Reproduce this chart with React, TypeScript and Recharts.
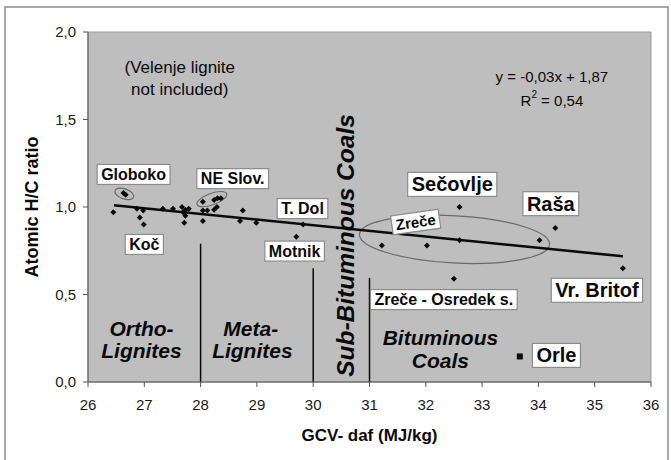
import {
  ComposedChart,
  Scatter,
  XAxis,
  YAxis,
  ReferenceLine,
  ReferenceDot,
  ReferenceArea,
} from "recharts";

// GCV-daf (MJ/kg) and atomic H/C ratio of the coal samples
const gcv = [
  26.45, 26.63, 26.67, 26.87, 26.98, 26.92, 26.99, 27.33, 27.51, 27.67, 27.73,
  27.79, 27.69, 27.73, 27.71, 28.04, 28.04, 28.04, 28.12, 28.24, 28.3, 28.36,
  28.24, 28.29, 28.7, 28.75, 28.99, 29.7, 29.82, 31.22, 32.02, 32.5, 32.6, 32.6,
  34.02, 34.3, 35.5,
];
const hc = [
  0.97, 1.08, 1.07, 0.99, 0.98, 0.94, 0.9, 0.99, 0.99, 1.0, 0.985, 0.99, 0.97,
  0.95, 0.91, 1.03, 0.98, 0.92, 0.98, 1.04, 1.05, 1.05, 0.985, 1.0, 0.92, 0.98,
  0.91, 0.83, 0.9, 0.78, 0.78, 0.59, 1.0, 0.81, 0.81, 0.88, 0.65,
];
const orleGcv = [33.67];
const orleHc = [0.146];

// linear trend, drawn end to end
const trendX = [26.46, 35.5];
const trendY = [1.01, 0.718];

// rank boundaries: x and top of each line
const boundX = [28, 30, 31];
const boundTop = [0.79, 0.65, 0.595];

const xTicks = [26, 27, 28, 29, 30, 31, 32, 33, 34, 35, 36];
const yTicks = [0, 0.5, 1, 1.5, 2];

// site labels
const siteNames = [
  "Globoko", "Koč", "NE Slov.", "T. Dol", "Motnik", "Sečovlje", "Raša",
  "Zreče", "Zreče - Osredek s.", "Vr. Britof", "Orle",
];
const siteX = [26.81, 27.0, 28.57, 29.81, 29.67, 32.47, 34.22, 31.82, 32.32, 35.04, 34.32];
const siteY = [1.186, 0.786, 1.162, 0.991, 0.748, 1.129, 1.019, 0.914, 0.471, 0.524, 0.152];

// coal rank names
const rankText = ["Ortho-", "Lignites", "Meta-", "Lignites", "Bituminous", "Coals"];
const rankX = [26.95, 26.95, 28.89, 28.92, 32.26, 32.26];
const rankY = [0.304, 0.18, 0.304, 0.18, 0.256, 0.123];

// ellipses around sample groups: x1, x2, y1, y2
const groupX1 = [26.47, 27.92, 30.82];
const groupX2 = [26.82, 28.48, 34.2];
const groupY1 = [1.046, 1.012, 0.68];
const groupY2 = [1.104, 1.078, 0.95];

const FONT = '"Liberation Sans", Arial, Helvetica, sans-serif';
const INK = "#0a0a0a";
const siteFont = [16, 16, 16, 16, 16, 20, 20, 15, 16, 20, 20];
const siteAngle = [0, 0, 0, 0, 0, 0, 0, -8, 0, 0, 0];
const groupAngle = [20, -20, 3];

const points = gcv.map((x, i) => ({ x, y: hc[i] }));
const orle = orleGcv.map((x, i) => ({ x, y: orleHc[i] }));

let canvas: HTMLCanvasElement | null = null;
function textWidth(text: string, font: string) {
  if (!canvas) canvas = document.createElement("canvas");
  const ctx = canvas.getContext("2d")!;
  ctx.font = font;
  return ctx.measureText(text).width;
}

const Diamond = (p: any) => {
  const { cx, cy } = p;
  const r = 3;
  return (
    <polygon
      points={`${cx},${cy - r} ${cx + r},${cy} ${cx},${cy + r} ${cx - r},${cy}`}
      fill={INK}
    />
  );
};

const Square = (p: any) => (
  <rect x={p.cx - 3} y={p.cy - 3} width={6} height={6} fill={INK} />
);

const boxLabel = (text: string, size: number, angle: number) => (p: any) => {
  const { cx, cy } = p;
  const w = textWidth(text, `bold ${size}px ${FONT}`) + 8;
  const h = size + 4;
  return (
    <g transform={`rotate(${angle} ${cx} ${cy})`}>
      <rect
        x={cx - w / 2}
        y={cy - h / 2}
        width={w}
        height={h}
        fill="#fff"
        stroke="#8c8c8c"
        strokeWidth={1.2}
      />
      <text
        x={cx}
        y={cy}
        textAnchor="middle"
        dominantBaseline="central"
        fontFamily={FONT}
        fontWeight="bold"
        fontSize={size}
        fill={INK}
      >
        {text}
      </text>
    </g>
  );
};

const plainText =
  (text: any, size: number, opts: { bold?: boolean; italic?: boolean; angle?: number } = {}) =>
  (p: any) => {
    const { cx, cy } = p;
    return (
      <text
        x={cx}
        y={cy}
        textAnchor="middle"
        dominantBaseline="central"
        fontFamily={FONT}
        fontWeight={opts.bold ? "bold" : "normal"}
        fontStyle={opts.italic ? "italic" : "normal"}
        fontSize={size}
        fill={INK}
        transform={opts.angle ? `rotate(${opts.angle} ${cx} ${cy})` : undefined}
      >
        {text}
      </text>
    );
  };

const ellipse = (angle: number) => (p: any) => {
  const { x, y, width, height } = p;
  const cx = x + width / 2;
  const cy = y + height / 2;
  return (
    <ellipse
      cx={cx}
      cy={cy}
      rx={width / 2}
      ry={height / 2}
      fill="none"
      stroke="#6a6a6a"
      strokeWidth={1.2}
      transform={`rotate(${angle} ${cx} ${cy})`}
    />
  );
};

const fmt = (v: number) => v.toFixed(1).replace(".", ",");

export default function App() {
  return (
    <div style={{ position: "absolute", left: 0, top: 0, width: 671, height: 460, background: "#fff" }}>
      <svg
        width={671}
        height={460}
        style={{ position: "absolute", left: 0, top: 0 }}
      >
        <rect x={5} y={7} width={663} height={470} fill="none" stroke="#8a8a8a" strokeWidth={1.5} />
      </svg>
      <div style={{ position: "absolute", left: 0, top: 0 }}>
        <ComposedChart
          width={671}
          height={460}
          margin={{ top: 32, right: 20, bottom: 0, left: 28 }}
        >
          <ReferenceArea
            x1={26}
            x2={36}
            y1={0}
            y2={2}
            fill="#bebebe"
            fillOpacity={1}
            stroke="#9a9a9a"
            strokeWidth={1}
          />
          <XAxis
            type="number"
            dataKey="x"
            domain={[26, 36]}
            ticks={xTicks}
            allowDataOverflow
            height={78}
            stroke="#555"
            tickLine={{ stroke: "#555" }}
            tickSize={5}
            tick={{ fill: "#1a1a1a", fontSize: 15, fontFamily: FONT }}
            tickMargin={12}
            label={{
              content: (p: any) => {
                const vb = p.viewBox;
                return (
                  <text
                    x={vb.x + vb.width / 2}
                    y={435}
                    textAnchor="middle"
                    dominantBaseline="central"
                    fontFamily={FONT}
                    fontWeight="bold"
                    fontSize={17}
                    fill={INK}
                  >
                    GCV- daf (MJ/kg)
                  </text>
                );
              },
            }}
          />
          <YAxis
            type="number"
            dataKey="y"
            domain={[0, 2]}
            ticks={yTicks}
            allowDataOverflow
            width={60}
            stroke="#555"
            tickLine={{ stroke: "#555" }}
            tickSize={5}
            tickFormatter={fmt}
            tick={{ fill: "#1a1a1a", fontSize: 15, fontFamily: FONT }}
            tickMargin={7}
            label={{
              content: (p: any) => {
                const vb = p.viewBox;
                const cx = 32;
                const cy = vb.y + vb.height / 2;
                return (
                  <text
                    x={cx}
                    y={cy}
                    textAnchor="middle"
                    dominantBaseline="central"
                    fontFamily={FONT}
                    fontWeight="bold"
                    fontSize={18}
                    fill={INK}
                    transform={`rotate(-90 ${cx} ${cy})`}
                  >
                    Atomic H/C ratio
                  </text>
                );
              },
            }}
          />

          {groupX1.map((x1, i) => (
            <ReferenceArea
              key={`g${i}`}
              x1={x1}
              x2={groupX2[i]}
              y1={groupY1[i]}
              y2={groupY2[i]}
              shape={ellipse(groupAngle[i])}
            />
          ))}

          {boundX.map((x, i) => (
            <ReferenceLine
              key={`b${i}`}
              segment={[
                { x, y: 0 },
                { x, y: boundTop[i] },
              ]}
              stroke={INK}
              strokeWidth={1.5}
            />
          ))}

          <ReferenceLine
            segment={[
              { x: trendX[0], y: trendY[0] },
              { x: trendX[1], y: trendY[1] },
            ]}
            stroke={INK}
            strokeWidth={2.5}
          />

          <ReferenceDot
            x={30.57}
            y={0.78}
            r={0}
            shape={plainText("Sub-Bituminous Coals", 24.5, { bold: true, italic: true, angle: -90 })}
          />

          <Scatter data={points} shape={Diamond} isAnimationActive={false} />
          <Scatter data={orle} shape={Square} isAnimationActive={false} />

          {rankText.map((t, i) => (
            <ReferenceDot
              key={`r${i}`}
              x={rankX[i]}
              y={rankY[i]}
              r={0}
              shape={plainText(t, 21, { bold: true, italic: true })}
            />
          ))}

          {siteNames.map((t, i) => (
            <ReferenceDot
              key={`s${i}`}
              x={siteX[i]}
              y={siteY[i]}
              r={0}
              shape={boxLabel(t, siteFont[i], siteAngle[i])}
            />
          ))}

          <ReferenceDot x={27.63} y={1.8} r={0} shape={plainText("(Velenje lignite", 17)} />
          <ReferenceDot x={27.63} y={1.67} r={0} shape={plainText("not included)", 17)} />
          <ReferenceDot x={34.24} y={1.747} r={0} shape={plainText("y = -0,03x + 1,87", 15)} />
          <ReferenceDot
            x={34.24}
            y={1.61}
            r={0}
            shape={plainText(
              <>
                R<tspan dy={-6} fontSize={10}>2</tspan>
                <tspan dy={6}> = 0,54</tspan>
              </>,
              15
            )}
          />
        </ComposedChart>
      </div>
    </div>
  );
}
